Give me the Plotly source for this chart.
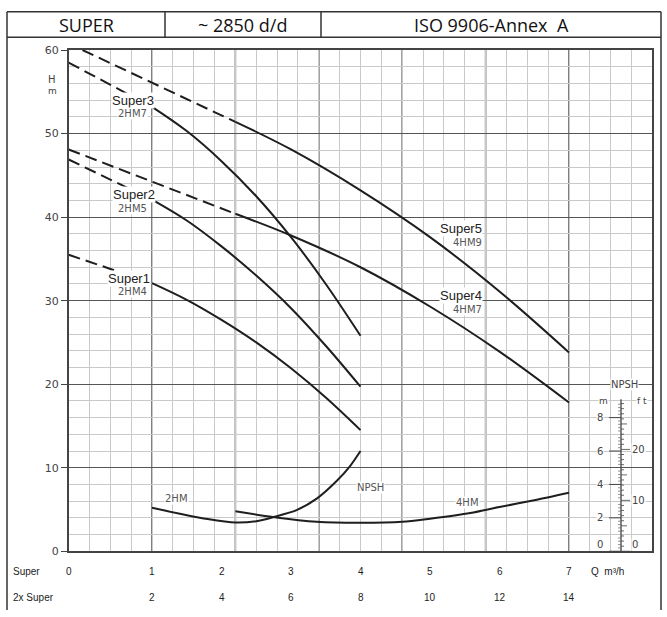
import plotly.graph_objects as go

W, H = 667, 617

# ---------------- data ----------------
# Q in m3/h (Super scale), H in m
s1_q = [1.0, 1.5, 2.0, 2.5, 3.0, 3.5, 4.0]
s1_h = [32.1, 30.1, 27.7, 25.0, 21.9, 18.4, 14.5]
s1_dq = [-0.2, 1.0]
s1_dh = [35.5, 32.1]

s2_q = [1.0, 1.5, 2.0, 2.5, 3.0, 3.5, 4.0]
s2_h = [42.1, 39.6, 36.5, 33.0, 29.1, 24.6, 19.7]
s2_dq = [-0.2, 1.0]
s2_dh = [46.9, 42.1]

s3_q = [1.0, 1.5, 2.0, 2.5, 3.0, 3.5, 4.0]
s3_h = [53.2, 50.3, 46.7, 42.5, 37.6, 32.0, 25.8]
s3_dq = [-0.2, 1.0]
s3_dh = [58.5, 53.2]

s4_q = [2.2, 3.0, 4.0, 5.0, 6.0, 7.0]
s4_h = [40.4, 37.8, 34.0, 29.3, 23.9, 17.8]
s4_dq = [-0.2, 2.2]
s4_dh = [48.1, 40.4]

s5_q = [2.2, 3.0, 4.0, 5.0, 6.0, 7.0]
s5_h = [51.4, 48.1, 43.2, 37.6, 31.1, 23.8]
s5_dq = [0.0, 2.2]
s5_dh = [60.0, 51.4]

# NPSH in m
npsh2_q = [1.0, 1.4, 1.8, 2.2, 2.5, 2.75, 3.08, 3.37, 3.66, 3.85, 4.0]
npsh2_m = [2.6, 2.25, 1.93, 1.72, 1.8, 2.05, 2.46, 3.15, 4.22, 5.1, 6.0]
npsh4_q = [2.2, 2.74, 3.37, 4.0, 4.6, 5.0, 5.58, 6.0, 6.5, 7.0]
npsh4_m = [2.4, 2.05, 1.76, 1.70, 1.76, 1.95, 2.29, 2.65, 3.05, 3.5]

# axis ticks / labels
q_ticks = [-0.2, 1, 2, 3, 4, 5, 6, 7]
q_text = ["0", "1", "2", "3", "4", "5", "6", "7"]
q2_text = ["", "2", "4", "6", "8", "10", "12", "14"]
npsh_m_ticks = [0, 2, 4, 6, 8]
npsh_ft_ticks = [0, 10, 20]
bold_q = [1.0, 2.2, 3.4, 4.6, 5.8, 7.0]

# ---------------- helpers ----------------
def px(x):
    return x / W

def py(y):
    return 1 - y / H

X0, X1 = -0.2, 8.2
fig = go.Figure()

LC = "#1e1e1e"
for q, h in [(s1_q, s1_h), (s2_q, s2_h), (s3_q, s3_h), (s4_q, s4_h), (s5_q, s5_h)]:
    fig.add_trace(go.Scatter(x=q, y=h, mode="lines", line=dict(color=LC, width=2, shape="spline"),
                             showlegend=False, hoverinfo="skip"))
for q, h in [(s1_dq, s1_dh), (s2_dq, s2_dh), (s3_dq, s3_dh), (s4_dq, s4_dh), (s5_dq, s5_dh)]:
    fig.add_trace(go.Scatter(x=q, y=h, mode="lines", line=dict(color=LC, width=2, dash="12px,6px"),
                             showlegend=False, hoverinfo="skip"))
for q, m in [(npsh2_q, npsh2_m), (npsh4_q, npsh4_m)]:
    fig.add_trace(go.Scatter(x=q, y=m, yaxis="y2", mode="lines",
                             line=dict(color=LC, width=2, shape="spline", smoothing=0.8),
                             showlegend=False, hoverinfo="skip"))

shapes = []
# bold vertical grid lines
for q in bold_q:
    shapes.append(dict(type="line", xref="x", yref="paper", x0=q, x1=q, y0=py(557), y1=py(45),
                       line=dict(color="#555", width=1.5), layer="below"))

# header table & frame
FR = dict(color="#333", width=1.5)
shapes += [
    dict(type="line", xref="paper", yref="paper", x0=px(7), x1=px(661), y0=py(6), y1=py(6), line=FR),
    dict(type="line", xref="paper", yref="paper", x0=px(7), x1=px(661), y0=py(32), y1=py(32), line=FR),
    dict(type="line", xref="paper", yref="paper", x0=px(7), x1=px(7), y0=py(6), y1=py(617), line=FR),
    dict(type="line", xref="paper", yref="paper", x0=px(661), x1=px(661), y0=py(6), y1=py(617), line=FR),
    dict(type="line", xref="paper", yref="paper", x0=px(165), x1=px(165), y0=py(6), y1=py(32), line=FR),
    dict(type="line", xref="paper", yref="paper", x0=px(321), x1=px(321), y0=py(6), y1=py(32), line=FR),
]

# NPSH scale
AX = px(621)
shapes.append(dict(type="line", xref="paper", yref="y2", x0=AX, x1=AX, y0=0, y1=9.1,
                   line=dict(color="#444", width=1.3)))
for m in npsh_m_ticks:
    shapes.append(dict(type="line", xref="paper", yref="y2", x0=px(609), x1=AX, y0=m, y1=m,
                       line=dict(color="#444", width=1)))
for i in range(0, 46):
    v = i * 0.2
    if v > 9.05:
        break
    if i % 5 == 0:
        continue
    shapes.append(dict(type="line", xref="paper", yref="y2", x0=px(618), x1=AX, y0=v, y1=v,
                       line=dict(color="#666", width=0.7)))
for ft in range(0, 30):
    v = ft * 0.3048
    if v > 9.05:
        break
    if ft % 10 == 0:
        ln = 9
    elif ft % 5 == 0:
        ln = 6
    else:
        ln = 3
    shapes.append(dict(type="line", xref="paper", yref="y2", x0=AX, x1=px(621 + ln), y0=v, y1=v,
                       line=dict(color="#444", width=0.8)))

ann = []
def A(text, x, y, xref="paper", yref="paper", size=13, color="#222", family="Liberation Sans",
      xanchor="center", yanchor="middle", bg=None):
    d = dict(text=text, x=x, y=y, xref=xref, yref=yref, showarrow=False,
             font=dict(size=size, color=color, family=family), xanchor=xanchor, yanchor=yanchor,
             borderpad=0)
    if bg:
        d["bgcolor"] = bg
    ann.append(d)

HF = "Open Sans"
A("SUPER", px(86), py(19), size=18, family=HF, color="#111")
A("~ 2850 d/d", px(242), py(19), size=18, family=HF, color="#111")
A("ISO 9906-Annex  A", px(491), py(19), size=18, family=HF, color="#111")

A("H", px(52), py(75), size=10, family="DejaVu Sans", color="#444")
A("m", px(52), py(87), size=9, family="DejaVu Sans", color="#444")

# curve labels
A("Super3", px(155), py(97), xanchor="right", bg="white")
A("2HM7", px(148), py(110), size=10, family="DejaVu Sans", color="#555", xanchor="right", bg="white")
A("Super2", px(156), py(193), xanchor="right", bg="white")
A("2HM5", px(148), py(207), size=10, family="DejaVu Sans", color="#555", xanchor="right", bg="white")
A("Super1", px(151), py(278), xanchor="right", bg="white")
A("2HM4", px(148), py(292), size=10, family="DejaVu Sans", color="#555", xanchor="right", bg="white")
A("Super5", px(483), py(227), xanchor="right", bg="white")
A("4HM9", px(483), py(242), size=10, family="DejaVu Sans", color="#555", xanchor="right", bg="white")
A("Super4", px(483), py(296), xanchor="right", bg="white")
A("4HM7", px(483), py(310), size=10, family="DejaVu Sans", color="#555", xanchor="right", bg="white")

A("2HM", px(176), py(503), size=10, family="DejaVu Sans", color="#555", bg="white")
A("NPSH", px(370), py(492), size=10, family="DejaVu Sans", color="#555", bg="white")
A("4HM", px(467), py(507), size=10, family="DejaVu Sans", color="#555", bg="white")

# NPSH scale labels
A("NPSH", px(624), py(387), size=10, family="DejaVu Sans", color="#444", bg="white")
A("m", px(603), py(403), size=9, family="DejaVu Sans", color="#444", bg="white")
A("f t", px(642), py(403), size=9, family="DejaVu Sans", color="#444", bg="white")
for m in npsh_m_ticks:
    A(str(m), px(604), max(m, 0.4), yref="y2", size=10, family="DejaVu Sans", color="#444",
      xanchor="right", bg="white")
for ft in npsh_ft_ticks:
    A(str(ft), px(631), max(ft * 0.3048, 0.4), yref="y2", size=10, family="DejaVu Sans", color="#444",
      xanchor="left", bg="white")

# bottom scales
A("Super", px(27), py(578), size=10, color="#222")
A("2x Super", px(33), py(604), size=10, color="#222")
for q, t1, t2 in zip(q_ticks, q_text, q2_text):
    A(t1, q, py(578), xref="x", size=10, color="#222")
    if t2:
        A(t2, q, py(604), xref="x", size=10, color="#222")
A("Q  m\u00b3/h", px(590), py(578), size=10, color="#222", xanchor="left")

fig.update_layout(
    width=W, height=H, margin=dict(l=0, r=0, t=0, b=0),
    paper_bgcolor="white", plot_bgcolor="white",
    xaxis=dict(domain=[px(68.6), px(652.4)], range=[X0, X1], tick0=X0, dtick=0.3,
               showgrid=True, gridcolor="#c9c9c9", gridwidth=1, zeroline=False,
               showticklabels=False, ticks="", showline=True, linecolor="#444", linewidth=1.5,
               mirror=True),
    yaxis=dict(domain=[py(557), py(45)], range=[0, 60], tick0=0, dtick=10,
               showgrid=True, gridcolor="#555", gridwidth=1.3, zeroline=False,
               ticks="outside", ticklen=6, tickcolor="#444",
               tickfont=dict(size=11, family="DejaVu Sans", color="#444"),
               showline=True, linecolor="#444", linewidth=1.5, mirror=True,
               minor=dict(dtick=2, showgrid=True, gridcolor="#c9c9c9", gridwidth=1)),
    yaxis2=dict(domain=[py(557), py(45)], range=[0, 30], overlaying="y", visible=False),
    shapes=shapes, annotations=ann,
)

fig.write_html("out.html", config={"displayModeBar": False},
               post_script="document.body.style.margin='0px';document.body.style.overflow='hidden';")
